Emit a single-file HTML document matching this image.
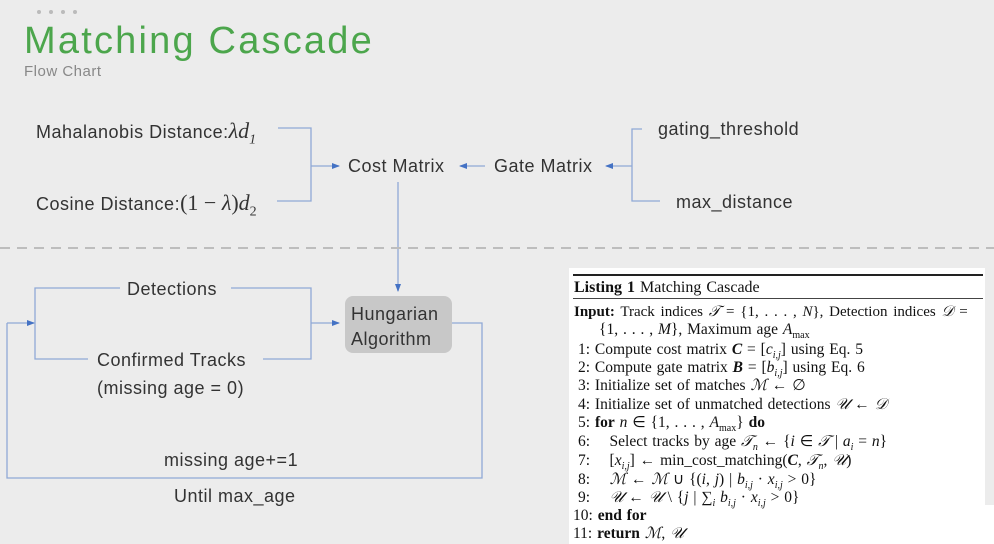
<!DOCTYPE html>
<html><head><meta charset="utf-8"><style>
body{margin:0;width:994px;height:544px;background:#ececec;overflow:hidden;position:relative;font-family:"Liberation Sans",sans-serif}
.t{position:absolute;white-space:nowrap;color:#333;font-size:18px;letter-spacing:0.5px;line-height:1}
.m{font-family:"Liberation Serif",serif;font-size:22px;letter-spacing:0}
.lst{position:absolute;left:569px;top:268px;width:416px;height:276px;background:#fff}
.lst2{position:absolute;left:569px;top:505px;width:425px;height:39px;background:#fff}
.l{position:absolute;white-space:nowrap;font-family:"Liberation Serif",serif;font-size:15.5px;color:#111;line-height:1;word-spacing:1px}
</style></head><body>
<svg width="994" height="544" style="position:absolute;left:0;top:0">
<defs><marker id="a" markerWidth="8" markerHeight="8" refX="7" refY="4" orient="auto" markerUnits="userSpaceOnUse"><path d="M0,1 L8,4 L0,7 z" fill="#4472c4"/></marker></defs>
<g fill="#bbb"><circle cx="39" cy="12" r="2"/><circle cx="51" cy="12" r="2"/><circle cx="63" cy="12" r="2"/><circle cx="75" cy="12" r="2"/></g>
<g stroke="#8fa9d6" stroke-width="1.3" fill="none">
<polyline points="278,128 311,128 311,201 277,201"/>
<line x1="311" y1="166" x2="339" y2="166" marker-end="url(#a)"/>
<line x1="485" y1="166" x2="460" y2="166" marker-end="url(#a)"/>
<polyline points="642,129 632,129 632,201 660,201"/>
<line x1="632" y1="166" x2="606" y2="166" marker-end="url(#a)"/>
<line x1="398" y1="182" x2="398" y2="291" marker-end="url(#a)"/>
<polyline points="120,288 35,288 35,359 88,359"/>
<polyline points="231,288 311,288 311,359 263,359"/>
<line x1="311" y1="323" x2="339" y2="323" marker-end="url(#a)"/>
<polyline points="452,323 482,323 482,478 7,478 7,323"/>
<line x1="7" y1="323" x2="34" y2="323" marker-end="url(#a)"/>
</g>
<line x1="0" y1="248" x2="994" y2="248" stroke="#bdbdbd" stroke-width="2" stroke-dasharray="10,7"/>
<rect x="345" y="296" width="107" height="57" rx="8" fill="#c8c8c8"/>
</svg>
<div class="t" style="left:24px;top:22px;font-size:38px;letter-spacing:2.2px;color:#4ca64c">Matching Cascade</div>
<div class="t" style="left:24px;top:64px;font-size:15px;color:#888">Flow Chart</div>
<div class="t" style="left:36px;top:120px">Mahalanobis Distance:<i class="m">λd<sub style="font-size:14px">1</sub></i></div>
<div class="t" style="left:36px;top:192px">Cosine Distance:<span class="m">(1 − <i>λ</i>)<i>d</i><sub style="font-size:14px">2</sub></span></div>
<div class="t" style="left:348px;top:157px">Cost Matrix</div>
<div class="t" style="left:494px;top:157px">Gate Matrix</div>
<div class="t" style="left:658px;top:120px">gating_threshold</div>
<div class="t" style="left:676px;top:193px">max_distance</div>
<div class="t" style="left:127px;top:280px">Detections</div>
<div class="t" style="left:97px;top:351px">Confirmed Tracks</div>
<div class="t" style="left:97px;top:379px">(missing age = 0)</div>
<div class="t" style="left:351px;top:302px;line-height:25px;font-size:18px">Hungarian<br>Algorithm</div>
<div class="t" style="left:164px;top:451px">missing age+=1</div>
<div class="t" style="left:174px;top:487px">Until max_age</div>
<div class="lst"></div><div class="lst2"></div>
<div style="position:absolute;left:573px;top:274px;width:410px;height:2px;background:#222"></div>
<div style="position:absolute;left:573px;top:298px;width:410px;height:1px;background:#444"></div>
<div class="l" style="left:574px;top:280px;font-size:16px"><b>Listing 1</b> Matching Cascade</div>
<div class="l" style="left:574px;top:305px;word-spacing:2px;font-size:15px"><b>Input:</b> Track indices <i>𝒯</i> = {1, . . . , <i>N</i>}, Detection indices <i>𝒟</i> =</div>
<div class="l" style="left:599px;top:322px">{1, . . . , <i>M</i>}, Maximum age <i>A</i><sub style="font-size:10px">max</sub></div>
<div class="l" style="left:578px;top:342px">1: Compute cost matrix <b><i>C</i></b> = [<i>c<sub style="font-size:10px">i,j</sub></i>] using Eq. 5</div>
<div class="l" style="left:578px;top:360px">2: Compute gate matrix <b><i>B</i></b> = [<i>b<sub style="font-size:10px">i,j</sub></i>] using Eq. 6</div>
<div class="l" style="left:578px;top:378px">3: Initialize set of matches <i>ℳ</i> ← ∅</div>
<div class="l" style="left:578px;top:397px">4: Initialize set of unmatched detections <i>𝒰</i> ← <i>𝒟</i></div>
<div class="l" style="left:578px;top:415px">5: <b>for</b> <i>n</i> ∈ {1, . . . , <i>A</i><sub style="font-size:10px">max</sub>} <b>do</b></div>
<div class="l" style="left:578px;top:434px">6: &nbsp;&nbsp;&nbsp;Select tracks by age <i>𝒯<sub style="font-size:10px">n</sub></i> ← {<i>i</i> ∈ <i>𝒯</i> | <i>a<sub style="font-size:10px">i</sub></i> = <i>n</i>}</div>
<div class="l" style="left:578px;top:453px">7: &nbsp;&nbsp;&nbsp;[<i>x<sub style="font-size:10px">i,j</sub></i>] ← min_cost_matching(<b><i>C</i></b>, <i>𝒯<sub style="font-size:10px">n</sub></i>, <i>𝒰</i>)</div>
<div class="l" style="left:578px;top:472px">8: &nbsp;&nbsp;&nbsp;<i>ℳ</i> ← <i>ℳ</i> ∪ {(<i>i</i>, <i>j</i>) | <i>b<sub style="font-size:10px">i,j</sub></i> · <i>x<sub style="font-size:10px">i,j</sub></i> &gt; 0}</div>
<div class="l" style="left:578px;top:490px">9: &nbsp;&nbsp;&nbsp;<i>𝒰</i> ← <i>𝒰</i> \ {<i>j</i> | ∑<sub style="font-size:10px"><i>i</i></sub> <i>b<sub style="font-size:10px">i,j</sub></i> · <i>x<sub style="font-size:10px">i,j</sub></i> &gt; 0}</div>
<div class="l" style="left:573px;top:508px">10: <b>end for</b></div>
<div class="l" style="left:573px;top:526px">11: <b>return</b> <i>ℳ</i>, <i>𝒰</i></div>
</body></html>
